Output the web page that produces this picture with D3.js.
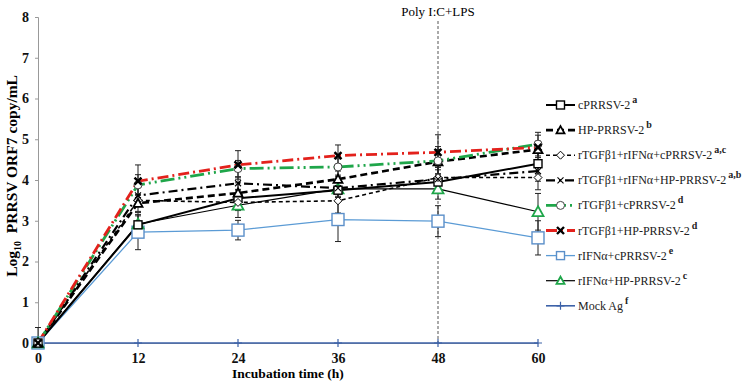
<!DOCTYPE html>
<html>
<head>
<meta charset="utf-8">
<script src="https://cdn.jsdelivr.net/npm/d3@7"></script>
<style>
  body { margin: 0; background: #fff; }
  text { font-family: "Liberation Serif", "Times New Roman", serif; }
</style>
</head>
<body>
<div id="chart"></div>
<script>
const hours = [0, 12, 24, 36, 48, 60];
const yTicks = [0, 1, 2, 3, 4, 5, 6, 7, 8];

const seriesNames = [
    "cPRRSV-2", "HP-PRRSV-2", "rTGF\u03b21+rIFN\u03b1+cPRRSV-2", "rTGF\u03b21+rIFN\u03b1+HP-PRRSV-2",
    "rTGF\u03b21+cPRRSV-2", "rTGF\u03b21+HP-PRRSV-2", "rIFN\u03b1+cPRRSV-2", "rIFN\u03b1+HP-PRRSV-2", "Mock Ag"
];
const seriesSup = ["a", "b", "a,c", "a,b", "d", "d", "e", "c", "f"];

const cPRRSV      = [0, 2.90, 3.55, 3.75, 3.95, 4.40];
const hpPRRSV     = [0, 3.43, 3.68, 4.02, 4.45, 4.75];
const tgfIfnC     = [0, 3.50, 3.45, 3.49, 4.06, 4.06];
const tgfIfnHP    = [0, 3.62, 3.92, 3.80, 4.02, 4.22];
const tgfC        = [0, 3.88, 4.28, 4.32, 4.47, 4.88];
const tgfHP       = [0, 3.97, 4.37, 4.60, 4.68, 4.80];
const ifnC        = [0, 2.72, 2.77, 3.03, 2.99, 2.58];
const ifnHP       = [0, 2.92, 3.38, 3.78, 3.78, 3.22];
const mockAg      = [0, 0, 0, 0, 0, 0];

const cPRRSVErr   = [0.38, 0.30, 0.20, 0.25, 0.20, 0.25];
const hpPRRSVErr  = [0, 0.20, 0.25, 0.20, 0.30, 0.20];
const tgfIfnCErr  = [0, 0.15, 0.20, 0.30, 0.25, 0.30];
const tgfIfnHPErr = [0, 0.20, 0.15, 0.20, 0.30, 0.25];
const tgfCErr     = [0, 0.25, 0.20, 0.20, 0.35, 0.29];
const tgfHPErr    = [0, 0.40, 0.35, 0.26, 0.43, 0.30];
const ifnCErr     = [0, 0.43, 0.24, 0.54, 0.38, 0.42];
const ifnHPErr    = [0, 0.20, 0.30, 0.30, 0.25, 0.45];
const mockAgErr   = [0, 0, 0, 0, 0, 0];

const seriesValues = [cPRRSV, hpPRRSV, tgfIfnC, tgfIfnHP, tgfC, tgfHP, ifnC, ifnHP, mockAg];
const seriesErrors = [cPRRSVErr, hpPRRSVErr, tgfIfnCErr, tgfIfnHPErr, tgfCErr, tgfHPErr, ifnCErr, ifnHPErr, mockAgErr];

// line + marker styles, same order as seriesNames
const styles = [
    { stroke: "#000", width: 2, dash: null, marker: "square", mStroke: "#000", size: 8 },
    { stroke: "#000", width: 2.6, dash: "7,4", marker: "triangle", mStroke: "#000", size: 9 },
    { stroke: "#000", width: 1.6, dash: "4,3", marker: "diamond", mStroke: "#000", size: 8 },
    { stroke: "#000", width: 2.2, dash: "9,4,2,4", marker: "x", mStroke: "#000", size: 6 },
    { stroke: "#1fa64a", width: 2.8, dash: "14,4,2,4,2,4", marker: "circle", mStroke: "#444", size: 8 },
    { stroke: "#e3211c", width: 2.8, dash: "11,4,2,4", marker: "xbold", mStroke: "#000", size: 7 },
    { stroke: "#5b9bd5", width: 1.3, dash: null, marker: "square", mStroke: "#5b8fc9", size: 12 },
    { stroke: "#000", width: 1.2, dash: null, marker: "triangle", mStroke: "#1fa64a", size: 11 },
    { stroke: "#3d62a8", width: 1.6, dash: null, marker: "plus", mStroke: "#3d62a8", size: 8 }
];

const width = 744, height = 389;
const margin = { left: 38, top: 17, right: 206, bottom: 46 };

const svg = d3.select("#chart").append("svg")
    .attr("width", width)
    .attr("height", height);

const x = d3.scaleLinear().domain([0, 60]).range([margin.left, width - margin.right]);
const y = d3.scaleLinear().domain([0, 8]).range([height - margin.bottom, margin.top]);

// y axis
const yAxis = svg.append("g")
    .attr("transform", `translate(${margin.left},0)`)
    .call(d3.axisLeft(y).tickValues(yTicks).tickSize(3).tickPadding(6));
yAxis.select(".domain").attr("stroke", "#999");
yAxis.selectAll(".tick line").attr("stroke", "#999");
yAxis.selectAll("text")
    .style("font-family", "Liberation Serif")
    .style("font-size", "14px")
    .style("font-weight", "bold")
    .attr("fill", "#111");

// x axis
const xAxis = svg.append("g")
    .attr("transform", `translate(0,${y(0)})`)
    .call(d3.axisBottom(x).tickValues(hours).tickSize(0).tickPadding(10));
xAxis.select(".domain").attr("stroke", "#999");
xAxis.selectAll("text")
    .style("font-family", "Liberation Serif")
    .style("font-size", "14px")
    .style("font-weight", "bold")
    .attr("fill", "#111");

svg.append("text")
    .attr("x", x(30))
    .attr("y", 378)
    .attr("text-anchor", "middle")
    .style("font-size", "13.5px")
    .style("font-weight", "bold")
    .text("Incubation time (h)");

const yLabel = svg.append("text")
    .attr("transform", `translate(17,${y(4.1)}) rotate(-90)`)
    .attr("text-anchor", "middle")
    .style("font-size", "15.5px")
    .style("font-weight", "bold");
yLabel.append("tspan").text("Log");
yLabel.append("tspan").attr("dy", 4).style("font-size", "10px").text("10");
yLabel.append("tspan").attr("dy", -4).text("\u00a0 PRRSV ORF7 copy/mL");

// treatment marker at 48 h
svg.append("line")
    .attr("x1", x(48)).attr("x2", x(48))
    .attr("y1", 21).attr("y2", y(0))
    .attr("stroke", "#555")
    .attr("stroke-width", 1)
    .attr("stroke-dasharray", "3,2");

svg.append("text")
    .attr("x", x(48))
    .attr("y", 16)
    .attr("text-anchor", "middle")
    .style("font-size", "13px")
    .text("Poly I:C+LPS");

function drawMarker(g, type, s, stroke, fill) {
    const h = s / 2;
    if (type === "square") {
        g.append("rect").attr("x", -h).attr("y", -h).attr("width", s).attr("height", s)
            .attr("fill", fill).attr("stroke", stroke).attr("stroke-width", 1.4);
    } else if (type === "triangle") {
        g.append("path").attr("d", `M0,${-h}L${h},${h * 0.8}L${-h},${h * 0.8}Z`)
            .attr("fill", fill).attr("stroke", stroke).attr("stroke-width", 1.8);
    } else if (type === "diamond") {
        g.append("path").attr("d", `M0,${-h}L${h},0L0,${h}L${-h},0Z`)
            .attr("fill", fill).attr("stroke", stroke).attr("stroke-width", 1);
    } else if (type === "circle") {
        g.append("circle").attr("r", h).attr("fill", fill).attr("stroke", stroke).attr("stroke-width", 1);
    } else if (type === "x" || type === "xbold") {
        g.append("path").attr("d", `M${-h},${-h}L${h},${h}M${-h},${h}L${h},${-h}`)
            .attr("stroke", stroke).attr("stroke-width", type === "xbold" ? 2.4 : 1.1);
    } else if (type === "plus") {
        g.append("path").attr("d", `M${-h},0L${h},0M0,${-h}L0,${h}`)
            .attr("stroke", stroke).attr("stroke-width", 1.2);
    }
}

const line = d3.line().x((d, i) => x(hours[i])).y(d => y(d));

// error bars
seriesValues.forEach((vals, si) => {
    const errs = seriesErrors[si];
    vals.forEach((v, i) => {
        const e = errs[i];
        if (!e) return;
        const g = svg.append("g").attr("stroke", "#222").attr("stroke-width", 1);
        g.append("line").attr("x1", x(hours[i])).attr("x2", x(hours[i]))
            .attr("y1", y(v + e)).attr("y2", y(i === 0 ? v : v - e));
        g.append("line").attr("x1", x(hours[i]) - 3).attr("x2", x(hours[i]) + 3)
            .attr("y1", y(v + e)).attr("y2", y(v + e));
        if (i > 0) {
            g.append("line").attr("x1", x(hours[i]) - 3).attr("x2", x(hours[i]) + 3)
                .attr("y1", y(v - e)).attr("y2", y(v - e));
        }
    });
});

// lines (drawn back to front so red/green dash-dot sit on top like the original)
const drawOrder = [8, 6, 7, 0, 2, 3, 1, 4, 5];
drawOrder.forEach(si => {
    const st = styles[si];
    svg.append("path")
        .datum(seriesValues[si])
        .attr("d", line)
        .attr("fill", "none")
        .attr("stroke", st.stroke)
        .attr("stroke-width", st.width)
        .attr("stroke-dasharray", st.dash);
});

drawOrder.forEach(si => {
    const st = styles[si];
    seriesValues[si].forEach((v, i) => {
        const g = svg.append("g").attr("transform", `translate(${x(hours[i])},${y(v)})`);
        drawMarker(g, st.marker, st.size, st.mStroke, "#fff");
    });
});

// legend
const legend = svg.selectAll(".legend")
    .data(seriesNames)
    .enter()
    .append("g")
    .attr("class", "legend")
    .attr("transform", (d, i) => `translate(546,${105 + i * 25.1})`);

legend.append("line")
    .attr("x1", 0).attr("x2", 29)
    .attr("stroke", (d, i) => styles[i].stroke)
    .attr("stroke-width", (d, i) => styles[i].width)
    .attr("stroke-dasharray", (d, i) => styles[i].dash);

legend.each(function (d, i) {
    const g = d3.select(this).append("g").attr("transform", "translate(14.5,0)");
    const st = styles[i];
    drawMarker(g, st.marker, Math.min(st.size, 8), st.mStroke, "#fff");
});

const legendText = legend.append("text")
    .attr("x", 32)
    .attr("y", 4)
    .style("font-size", "12px")
    .attr("fill", "#222");
legendText.append("tspan").text(d => d);
legendText.append("tspan")
    .attr("dx", 2)
    .attr("dy", -6)
    .style("font-size", "10px")
    .style("font-weight", "bold")
    .text((d, i) => seriesSup[i]);
</script>
</body>
</html>
